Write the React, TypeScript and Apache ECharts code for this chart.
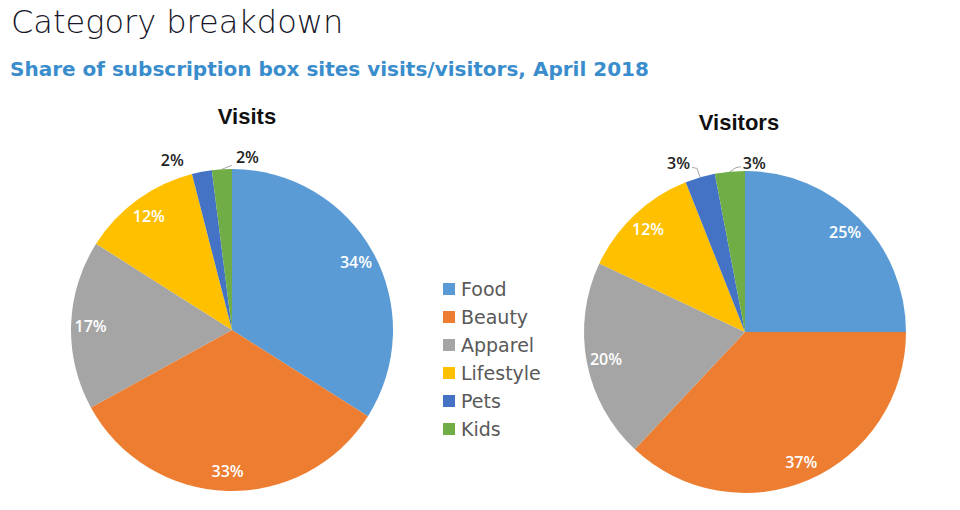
import { useEffect, useRef } from 'react';
import * as echarts from 'echarts';

const categories = ['Food', 'Beauty', 'Apparel', 'Lifestyle', 'Pets', 'Kids'];
const visitsShare = [34, 33, 17, 12, 2, 2];
const visitorsShare = [25, 37, 20, 12, 3, 3];
const colors = ['#5B9BD5', '#ED7D31', '#A5A5A5', '#FFC000', '#4472C4', '#70AD47'];

const mainTitle = 'Category breakdown';
const subTitle = 'Share of subscription box sites visits/visitors, April 2018';

const FONT = '"Open Sans", "DejaVu Sans", sans-serif';
const WIDE = '"DejaVu Sans", "Open Sans", sans-serif';
const R = 161;

// offsets of the small outside labels, relative to the rim point of each slice
const outsideStyle = {
  visits: {
    Pets: { dx: -18, dy: -12, align: 'right', line: null },
    Kids: { dx: 14, dy: -12, align: 'left', line: [[10, -4]] },
  },
  visitors: {
    Pets: { dx: -10, dy: -14, align: 'right', line: [[-3, -9], [-8, -10]] },
    Kids: { dx: 13, dy: -9, align: 'left', line: [[6, -4], [11, -5]] },
  },
};

function rimPoint(values: number[], i: number, cx: number, cy: number) {
  const total = values.reduce((a, b) => a + b, 0);
  const before = values.slice(0, i).reduce((a, b) => a + b, 0);
  const theta = ((before + values[i] / 2) / total) * Math.PI * 2;
  return [cx + R * Math.sin(theta), cy - R * Math.cos(theta)];
}

function buildSeries(name: string, values: number[], cx: number, cy: number, style: any) {
  const small = (v: number) => v < 5;
  const main = {
    name,
    type: 'pie',
    center: [cx, cy],
    radius: R,
    startAngle: 90,
    clockwise: true,
    avoidLabelOverlap: false,
    itemStyle: { borderWidth: 0 },
    emphasis: { disabled: true },
    data: categories.map((c, i) => ({
      name: c,
      value: values[i],
      itemStyle: { color: colors[i] },
      label: { show: small(values[i]) },
      labelLine: { show: small(values[i]) && !!style[c]?.line },
    })),
    label: {
      position: 'outside',
      formatter: '{c}%',
      color: '#222',
      fontFamily: FONT,
      fontSize: 16,
      fontWeight: 600,
    },
    labelLine: { lineStyle: { color: '#a6a6a6', width: 1 } },
    labelLayout: (p: any) => {
      const c = categories[p.dataIndex];
      const s = style[c];
      if (!s) return {};
      const [x, y] = rimPoint(values, p.dataIndex, cx, cy);
      const res: any = {
        x: x + s.dx,
        y: y + s.dy,
        align: s.align,
        verticalAlign: 'middle',
      };
      if (s.line) {
        res.labelLinePoints = [[x, y], ...s.line.map((d: number[]) => [x + d[0], y + d[1]])];
        if (res.labelLinePoints.length === 2) res.labelLinePoints.push(res.labelLinePoints[1]);
      }
      return res;
    },
  };
  const overlay = {
    name: name + ' labels',
    type: 'pie',
    center: [cx, cy],
    radius: [Math.round(R * 0.72), R],
    startAngle: 90,
    clockwise: true,
    silent: true,
    avoidLabelOverlap: false,
    itemStyle: { color: 'rgba(0,0,0,0)' },
    emphasis: { disabled: true },
    data: categories.map((c, i) => ({
      name: c,
      value: values[i],
      label: { show: !small(values[i]) },
    })),
    label: {
      position: 'inside',
      formatter: '{c}%',
      color: '#fff',
      fontFamily: FONT,
      fontSize: 16,
      fontWeight: 600,
    },
    labelLine: { show: false },
  };
  return [main, overlay];
}

export default function App() {
  const ref = useRef<HTMLDivElement>(null);

  useEffect(() => {
    document.body.style.margin = '0';
    if (!ref.current) return;
    const chart = echarts.init(ref.current, null, { renderer: 'svg' });
    chart.setOption({
      animation: false,
      backgroundColor: '#fff',
      title: [
        {
          text: mainTitle,
          left: 11,
          top: 6,
          padding: 0,
          textStyle: { fontFamily: WIDE, fontSize: 32, fontWeight: 200, color: '#161628' },
        },
        {
          text: subTitle,
          left: 10,
          top: 59,
          padding: 0,
          textStyle: { fontFamily: WIDE, fontSize: 20, fontWeight: 'bold', color: '#3a8dcc' },
        },
        {
          text: 'Visits',
          left: 247,
          top: 105,
          padding: 0,
          textAlign: 'center',
          textStyle: { fontFamily: '"Liberation Sans", Arial, sans-serif', fontSize: 22, fontWeight: 'bold', color: '#111' },
        },
        {
          text: 'Visitors',
          left: 739,
          top: 111,
          padding: 0,
          textAlign: 'center',
          textStyle: { fontFamily: '"Liberation Sans", Arial, sans-serif', fontSize: 22, fontWeight: 'bold', color: '#111' },
        },
      ],
      legend: {
        data: categories,
        orient: 'vertical',
        left: 443,
        top: 279,
        padding: 0,
        icon: 'rect',
        itemWidth: 12,
        itemHeight: 12,
        itemGap: 8,
        itemStyle: { borderWidth: 0 },
        selectedMode: false,
        textStyle: { fontFamily: WIDE, fontSize: 19, color: '#595959', lineHeight: 20, padding: [0, 0, 0, 1] },
      },
      series: [
        ...buildSeries('Visits', visitsShare, 232, 330, outsideStyle.visits),
        ...buildSeries('Visitors', visitorsShare, 745, 332, outsideStyle.visitors),
      ],
    });
    return () => chart.dispose();
  }, []);

  return <div ref={ref} style={{ width: 960, height: 510 }} />;
}
